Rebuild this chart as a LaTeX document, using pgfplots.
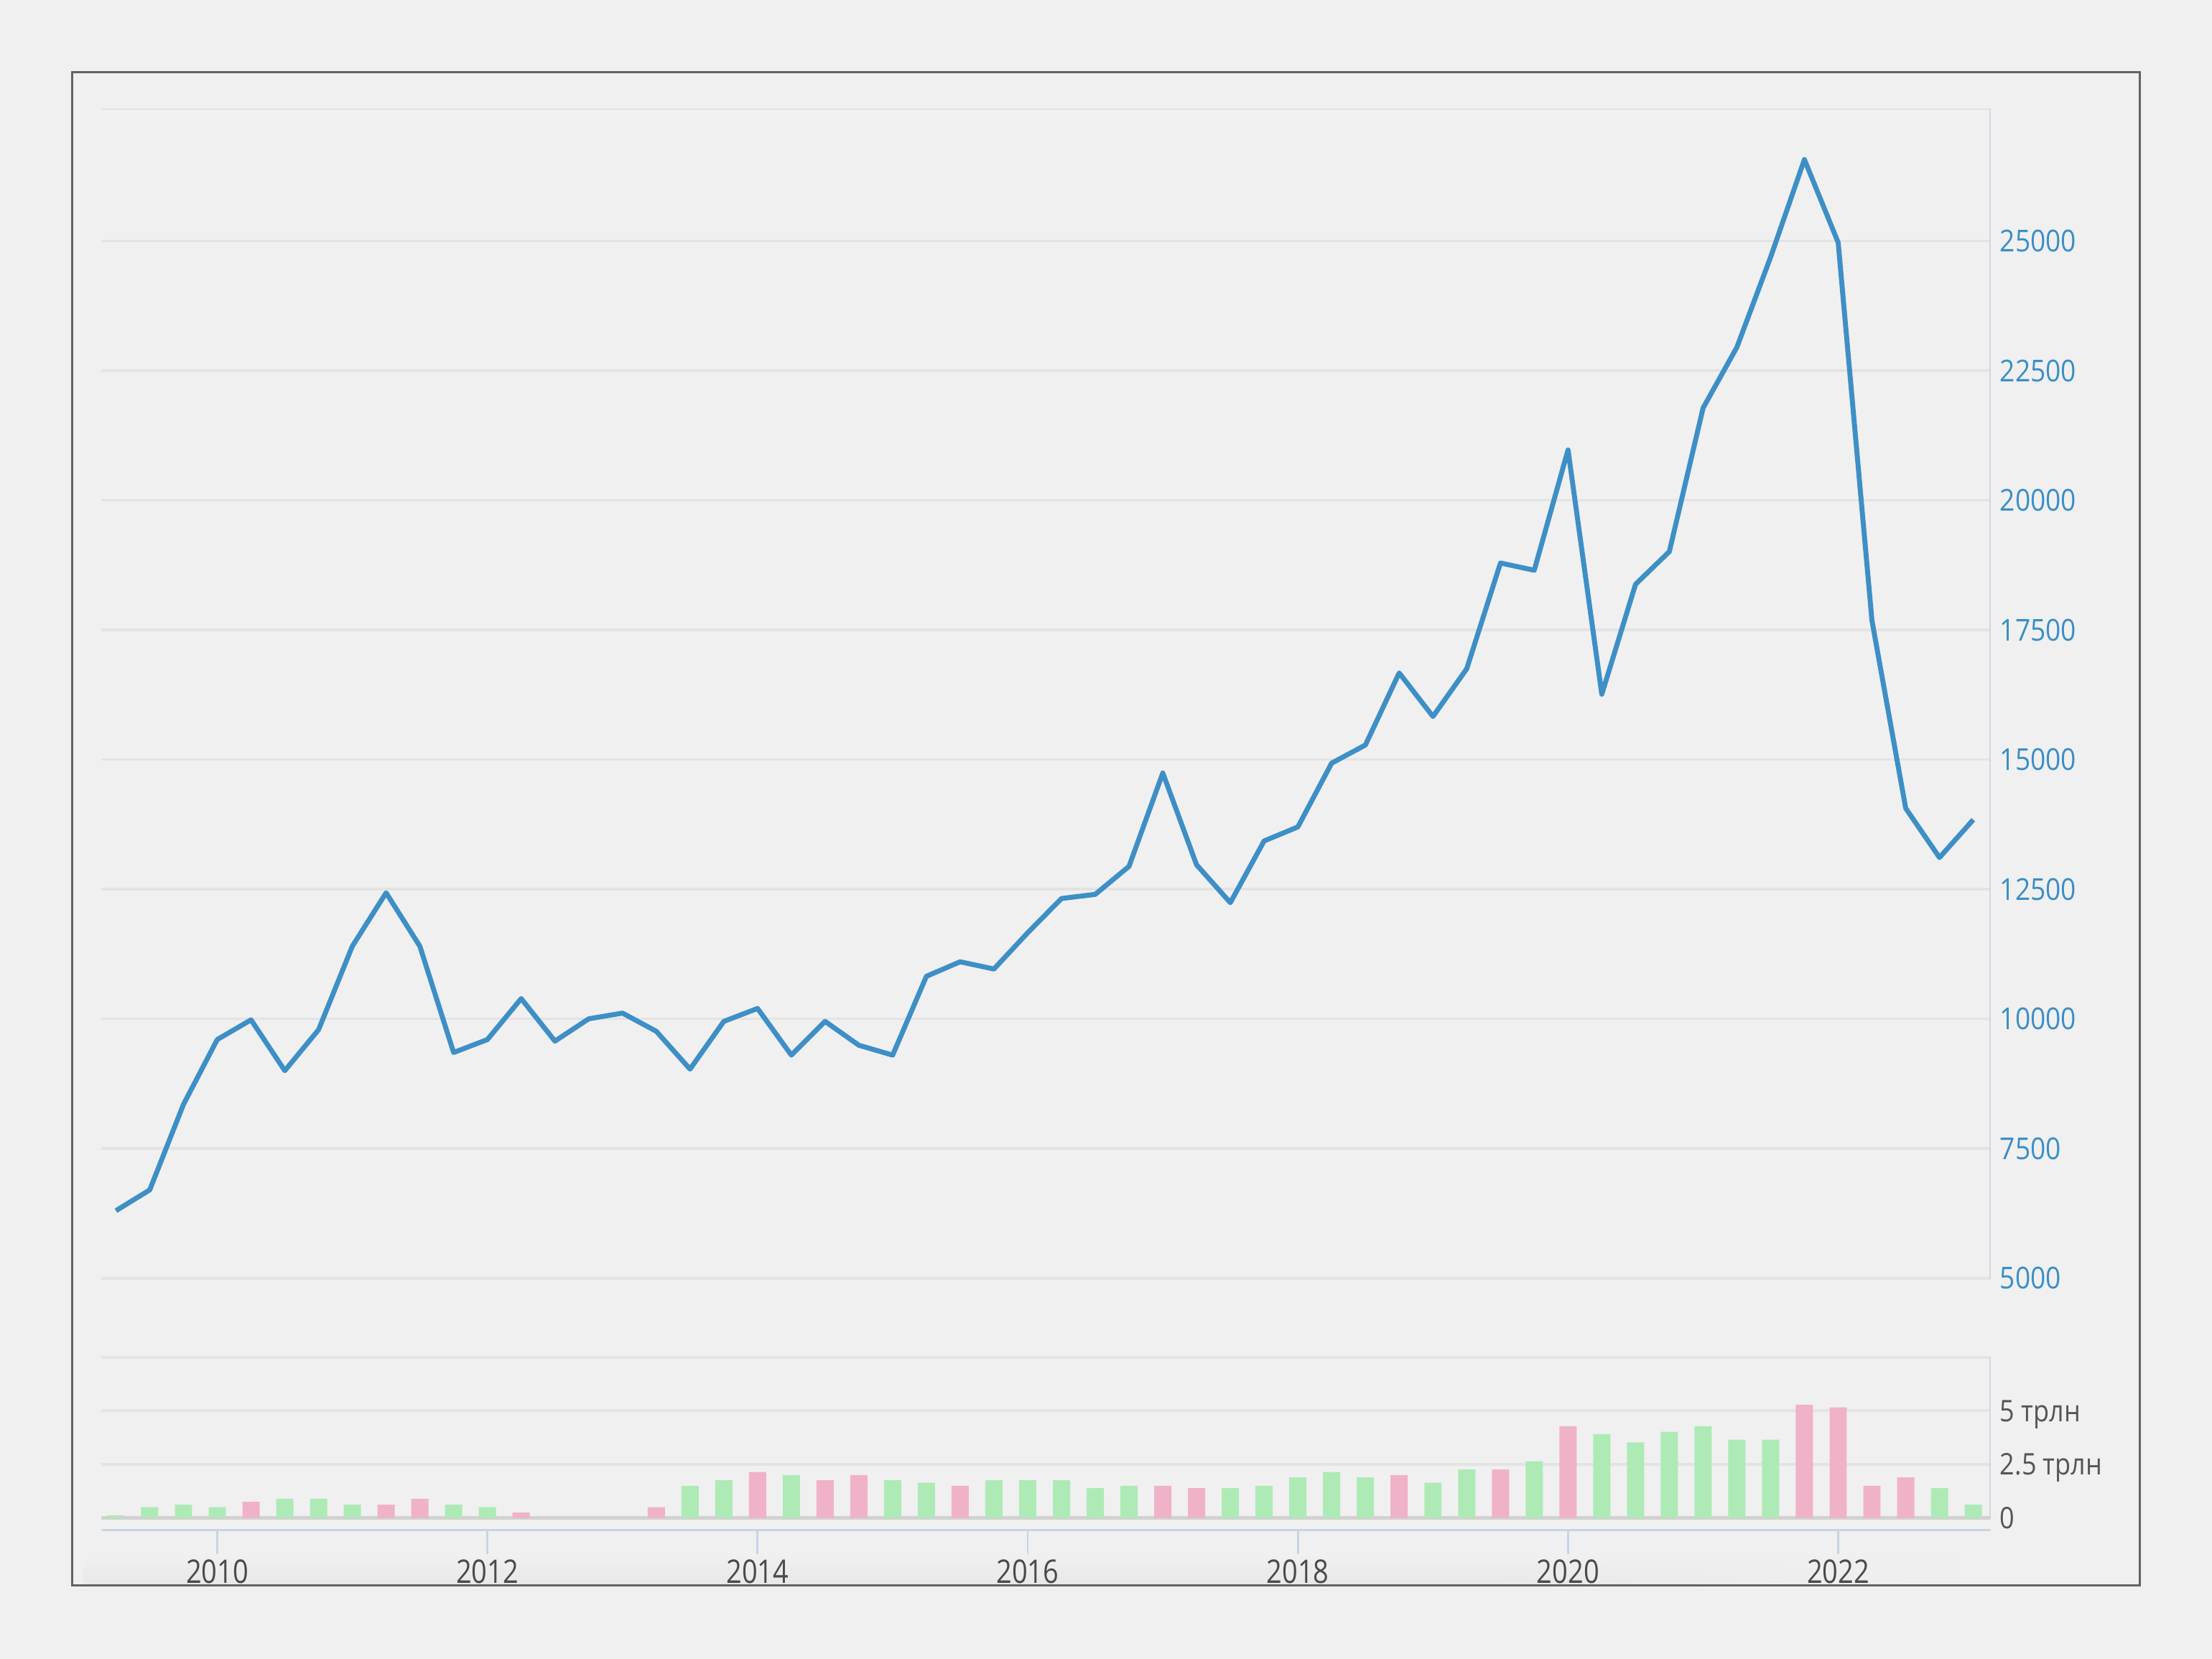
\documentclass[border=0pt]{standalone}
\usepackage{pgfplots}
\usepackage{pgfplotstable}
\pgfplotsset{compat=1.18}
\usepackage{fontspec}
\setmainfont{Open Sans}
\newfontfamily\ylabfam[FakeStretch=0.885]{Open Sans}
\newfontfamily\yearfam[FakeStretch=0.84]{Open Sans}
\newfontfamily\volfam[FakeStretch=0.87]{Open Sans}
\usetikzlibrary{fadings}

\definecolor{bg}{HTML}{F0F0F0}
\definecolor{framec}{HTML}{636363}
\definecolor{gridc}{HTML}{E3E3E3}
\definecolor{axisc}{HTML}{C6D4E6}
\definecolor{lineblue}{RGB}{61,143,198}
\definecolor{ytickblue}{RGB}{58,142,198}
\definecolor{bargreen}{RGB}{174,234,182}
\definecolor{barpink}{RGB}{240,178,200}
\definecolor{yeargray}{HTML}{4A4A4A}
\definecolor{volgray}{HTML}{555555}

\pgfplotstableread{
x y
2009.25 6300
2009.50 6700
2009.75 8350
2010.00 9600
2010.25 9980
2010.50 9000
2010.75 9790
2011.00 11400
2011.25 12430
2011.50 11400
2011.75 9350
2012.00 9600
2012.25 10390
2012.50 9570
2012.75 10000
2013.00 10110
2013.25 9760
2013.50 9030
2013.75 9950
2014.00 10200
2014.25 9300
2014.50 9950
2014.75 9490
2015.00 9300
2015.25 10820
2015.50 11100
2015.75 10960
2016.00 11660
2016.25 12320
2016.50 12400
2016.75 12940
2017.00 14740
2017.25 12970
2017.50 12240
2017.75 13430
2018.00 13700
2018.25 14930
2018.50 15280
2018.75 16670
2019.00 15830
2019.25 16750
2019.50 18790
2019.75 18650
2020.00 20970
2020.25 16260
2020.50 18380
2020.75 19010
2021.00 21780
2021.25 22950
2021.50 24690
2021.75 26570
2022.00 24970
2022.25 17680
2022.50 14060
2022.75 13110
2023.00 13840
}\pricedata

\pgfplotstableread{
x v
2009.25 0.12
2009.50 0.50
2009.75 0.62
2010.00 0.50
2010.50 0.89
2010.75 0.89
2011.00 0.62
2011.75 0.62
2012.00 0.50
2013.50 1.50
2013.75 1.76
2014.25 2.00
2015.00 1.76
2015.25 1.64
2015.75 1.76
2016.00 1.76
2016.25 1.76
2016.50 1.39
2016.75 1.50
2017.50 1.39
2017.75 1.50
2018.00 1.89
2018.25 2.14
2018.50 1.89
2019.00 1.64
2019.25 2.26
2019.75 2.64
2020.25 3.91
2020.50 3.52
2020.75 4.02
2021.00 4.28
2021.25 3.65
2021.50 3.65
2022.75 1.39
2023.00 0.62
}\greendata

\pgfplotstableread{
x v
2010.25 0.75
2011.25 0.62
2011.50 0.89
2012.25 0.25
2013.25 0.50
2014.00 2.14
2014.50 1.76
2014.75 2.00
2015.50 1.50
2017.00 1.50
2017.25 1.39
2018.75 2.00
2019.50 2.26
2020.00 4.28
2021.75 5.28
2022.00 5.16
2022.25 1.50
2022.50 1.89
}\pinkdata

\begin{document}
\begin{tikzpicture}
\path[use as bounding box] (0,0) rectangle (15.68cm,11.76cm);
\fill[bg] (0,0) rectangle (15.68cm,11.76cm);
% subtle shadow under the x labels
\shade[top color=bg, bottom color=black!9] (0.59cm,0.53cm) rectangle (10.2cm,0.74cm);
\shade[top color=bg, bottom color=black!9, path fading=east] (10.2cm,0.53cm) rectangle (13.9cm,0.74cm);
\draw[framec, line width=0.4pt] (0.51cm,0.52cm) rectangle (15.17cm,11.25cm);

% ---------- price panel ----------
\begin{axis}[
  at={(0.72cm,2.70cm)}, anchor=south west,
  scale only axis, width=13.39cm, height=8.29cm,
  xmin=2009.1436, xmax=2023.128,
  ymin=5000, ymax=27553,
  axis line style={draw=none},
  xtick=\empty,
  ytick={5000,7500,...,25000},
  scaled y ticks=false,
  ytick pos=right, yticklabel pos=right,
  ytick style={draw=none},
  ymajorgrids,
  grid style={color=gridc, line width=0.55pt},
  /pgf/number format/assume math mode=true,
  /pgf/number format/1000 sep={},
  yticklabel style={font=\ylabfam\fontsize{6.08}{7}\selectfont, text=ytickblue,
    anchor=base west, inner sep=0pt, xshift=0.06cm, yshift=-2.17pt,
    /pgf/number format/fixed, /pgf/number format/precision=0},
]
\draw[gridc, line width=0.55pt] (rel axis cs:0,1) -- (rel axis cs:1,1);
\draw[axisc, line width=0.45pt] (rel axis cs:1,0) -- (rel axis cs:1,1);
\addplot[color=lineblue, line width=1.0pt, line join=round, mark=none] table[x=x,y=y] {\pricedata};
\end{axis}

% ---------- volume panel ----------
\begin{axis}[
  at={(0.72cm,0.91cm)}, anchor=south west,
  scale only axis, width=13.39cm, height=1.23cm,
  xmin=2009.1436, xmax=2023.128,
  ymin=-0.592, ymax=7.5,
  axis line style={draw=none},
  xtick={2010,2012,...,2022},
  xtick pos=left, xtick align=outside,
  major tick length=0.167cm,
  xtick style={color=axisc, line width=0.4pt},
  /pgf/number format/assume math mode=true,
  /pgf/number format/1000 sep={},
  xticklabel style={font=\yearfam\fontsize{6.55}{7.5}\selectfont, text=yeargray,
    anchor=north, inner sep=0pt, yshift=-0.03cm},
  ytick={0,2.5,5,7.5},
  yticklabels={0,2.5 трлн,5 трлн,{}},
  ytick pos=right, yticklabel pos=right,
  ytick style={draw=none},
  ymajorgrids,
  grid style={color=gridc, line width=0.55pt},
  yticklabel style={font=\volfam\fontsize{6.0}{7}\selectfont, text=volgray,
    anchor=base west, inner sep=0pt, xshift=0.06cm, yshift=-2.14pt},
]
\draw[gridc!92!black, line width=0.8pt] (axis cs:2009.1436,0) -- (axis cs:2023.128,0);
\draw[axisc, line width=0.45pt] (axis cs:2023.128,0) -- (axis cs:2023.128,7.5);
\draw[axisc, line width=0.75pt] (rel axis cs:0,0) -- (rel axis cs:1,0);
\addplot[ybar, bar width=0.122cm, bar shift=0pt, fill=bargreen, draw=none] table[x=x,y=v] {\greendata};
\addplot[ybar, bar width=0.122cm, bar shift=0pt, fill=barpink, draw=none] table[x=x,y=v] {\pinkdata};
\end{axis}
\end{tikzpicture}
\end{document}
